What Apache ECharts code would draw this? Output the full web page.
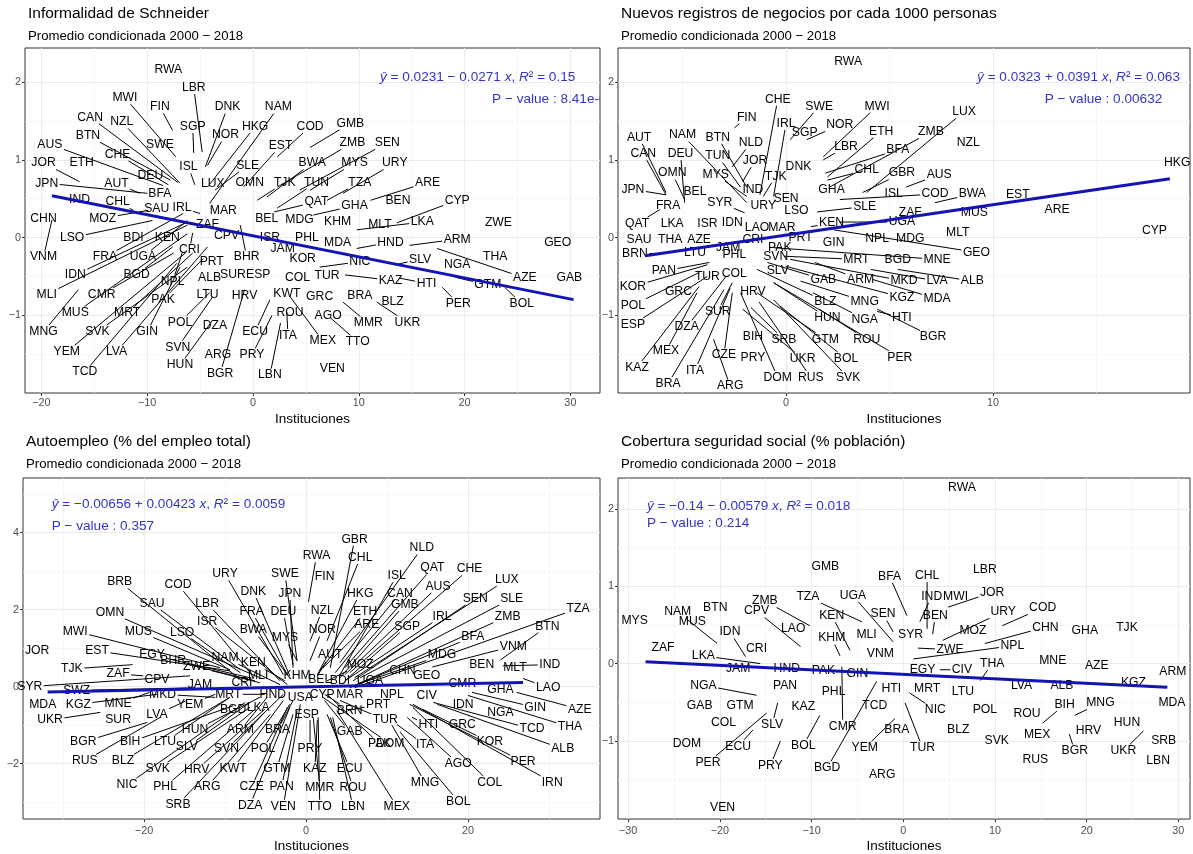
<!DOCTYPE html>
<html>
<head>
<meta charset="utf-8">
<script src="https://cdn.jsdelivr.net/npm/echarts@6/dist/echarts.min.js"></script>
<style>
  html, body { margin: 0; padding: 0; background: #ffffff; }
  #chart { width: 1193px; height: 854px; }
</style>
</head>
<body>
<div id="chart"></div>
<script>
// ---------------------------------------------------------------------------
// Data: each country is [code, Instituciones, conditional average]
// ---------------------------------------------------------------------------

// Informalidad de Schneider
const informalidadPoints = [
  ['RWA',-8.0,2.16],['LBR',-4.8,1.10],['MWI',-7.3,1.04],['FIN',-7.6,1.38],['CAN',-7.1,0.71],
  ['NZL',-6.9,0.70],['SGP',-5.6,1.09],['BTN',-7.8,0.74],['AUS',-8.5,0.67],['SWE',-8.8,1.20],
  ['ISL',-5.5,0.68],['CHE',-8.0,0.68],['JOR',-16.4,0.72],['ETH',-16.2,0.96],['DEU',-9.7,0.80],
  ['JPN',-10.0,0.57],['AUT',-10.7,0.57],['BFA',-8.8,0.57],['IND',-16.4,0.49],['CHL',-11.3,0.35],
  ['SAU',-9.1,0.37],['IRL',-5.0,0.31],['CHN',-19.0,0.27],['VNM',-19.0,0.23],['MOZ',-9.9,0.35],
  ['LSO',-9.5,0.22],['BDI',-11.3,0.00],['KEN',-8.1,0.00],['FRA',-6.6,0.31],['UGA',-6.2,0.22],
  ['CRI',-5.7,0.06],['IDN',-6.2,0.20],['BGD',-7.6,-0.12],['MLI',-6.2,0.16],['CMR',-7.5,-0.20],
  ['NPL',-6.7,-0.20],['PAK',-4.7,-0.27],['MNG',-16.5,-0.67],['MUS',-6.2,0.05],['MRT',-5.7,-0.20],
  ['SVK',-6.2,-0.38],['GIN',-6.9,-0.38],['POL',-4.1,-0.71],['YEM',-6.4,-0.20],['LVA',-4.3,-0.12],
  ['SVN',-3.8,-0.76],['TCD',-7.2,-0.33],['HUN',-3.8,-1.06],['DNK',-4.5,0.91],['NAM',-4.1,0.44],
  ['HKG',-4.3,0.65],['NOR',-4.3,0.93],['COD',2.3,1.04],['GMB',5.4,1.16],['EST',-0.9,0.65],
  ['ZMB',2.3,0.65],['SEN',4.4,0.61],['SLE',-3.6,0.61],['BWA',1.3,0.52],['MYS',5.4,0.61],
  ['URY',8.5,0.57],['LUX',-3.8,0.70],['OMN',-0.3,0.71],['TJK',0.4,0.48],['TUN',2.3,0.38],
  ['TZA',7.0,0.48],['MAR',-2.8,0.35],['QAT',2.0,0.33],['GHA',5.7,0.29],['BEN',13.7,0.48],
  ['ZAF',-4.3,0.17],['BHR',-1.2,0.16],['CPV',-2.5,0.03],['BEL',1.3,0.25],['MDG',4.4,0.23],
  ['LKA',9.8,0.10],['KHM',8.0,0.20],['MLT',12.0,0.17],['ISR',1.6,0.00],['PHL',5.1,0.00],
  ['MDA',8.0,-0.06],['ARM',14.8,-0.10],['HND',9.8,-0.14],['JAM',2.8,-0.14],['KOR',4.7,-0.27],
  ['NIC',6.3,-0.38],['SLV',13.4,-0.35],['PRT',-3.9,-0.31],['ESP',0.5,-0.48],['COL',4.2,-0.52],
  ['KAZ',8.7,-0.48],['TUR',7.0,-0.49],['ALB',-4.1,-0.51],['SUR',-1.9,-0.48],['HTI',13.8,-0.52],
  ['LTU',-4.3,-0.74],['HRV',-0.8,-0.75],['KWT',3.2,-0.72],['GRC',6.3,-0.76],['BRA',10.1,-0.75],
  ['MMR',8.5,-0.83],['BLZ',13.2,-0.83],['UKR',11.7,-0.83],['ROU',3.5,-0.97],['AGO',7.1,-1.00],
  ['TTO',7.3,-1.03],['MEX',3.5,-0.76],['DZA',-3.6,-1.13],['ECU',1.6,-0.80],['ITA',3.2,-0.96],
  ['BGR',-0.8,-0.67],['ARG',-3.3,-1.51],['PRY',1.8,-1.00],['LBN',2.6,-1.10],['VEN',7.5,-1.68],
  ['ARE',11.1,0.48],['CYP',13.6,0.19],['ZWE',23.2,0.19],['GEO',28.8,-0.07],['THA',22.9,-0.25],
  ['GTM',19.1,-0.51],['NGA',19.3,-0.35],['AZE',17.4,-0.14],['GAB',30.3,-0.52],['PER',17.9,-0.64],
  ['BOL',23.8,-0.64]
];
const informalidadFit = { intercept: 0.0231, slope: -0.0271, r2: '0.15', p: '8.41e-06' };

// Nuevos registros de negocios por cada 1000 personas
const negociosPoints = [
  ['CHE',-1.26,0.55],['FIN',-2.5,1.41],['IRL',-0.6,0.53],['AUT',-5.8,0.58],['NAM',-1.9,0.45],
  ['BTN',-1.9,0.65],['NLD',-2.6,0.91],['CAN',-5.8,0.55],['DEU',-4.9,0.45],['TUN',-2.2,0.65],
  ['JOR',-2.1,0.72],['OMN',-4.9,0.49],['MYS',-1.9,0.53],['TJK',-1.1,0.53],['DNK',0.6,0.91],
  ['JPN',-5.8,0.55],['BEL',-4.4,0.59],['IND',-1.6,0.62],['SEN',0.0,0.50],['FRA',-5.7,0.41],
  ['SYR',-2.0,0.32],['URY',-1.1,0.41],['LSO',0.5,0.35],['QAT',-6.1,0.36],['LKA',-5.5,0.18],
  ['ISR',-3.8,0.18],['IDN',-2.6,0.19],['LAO',-1.4,0.13],['MAR',-0.2,0.13],['SAU',-6.8,-0.02],
  ['THA',-5.6,-0.02],['AZE',-4.2,-0.02],['CRI',-1.6,-0.03],['PRT',0.7,0.00],['JAM',-2.8,-0.13],
  ['PAK',-0.3,-0.13],['BRN',-5.8,-0.20],['LTU',-4.4,-0.19],['PHL',-2.5,-0.22],['SVN',-0.5,-0.24],
  ['PAN',-3.7,-0.32],['TUR',-3.8,-0.50],['COL',-2.5,-0.47],['SLV',-0.4,-0.43],['KOR',-3.8,-0.35],
  ['GRC',-5.2,-0.69],['HRV',-1.6,-0.69],['POL',-4.2,-0.45],['SUR',-2.6,-0.58],['ESP',-3.8,-0.50],
  ['DZA',-2.9,-0.50],['BIH',-1.6,-1.27],['SRB',-1.7,-0.90],['MEX',-4.3,-0.71],['CZE',-2.6,-0.71],
  ['PRY',-1.6,-1.55],['KAZ',-4.2,-0.63],['ITA',-2.7,-0.65],['BRA',-3.0,-0.67],['ARG',-3.5,-1.31],
  ['DOM',-2.2,-0.71],['RWA',3.0,2.26],['SWE',0.2,1.26],['MWI',1.8,1.04],['LUX',3.9,0.58],
  ['NOR',1.0,1.26],['ETH',2.0,0.78],['ZMB',2.1,0.65],['SGP',0.9,1.35],['LBR',1.8,1.00],
  ['BFA',1.9,0.83],['NZL',8.8,1.22],['CHL',2.0,0.74],['GBR',3.7,0.58],['AUS',5.8,0.65],
  ['GHA',2.2,0.62],['ISL',5.2,0.56],['COD',2.6,0.49],['BWA',7.2,0.45],['SLE',1.5,0.33],
  ['ZAF',6.0,0.32],['MUS',9.1,0.32],['UGA',2.6,0.20],['KEN',1.2,0.14],['MLT',8.3,0.06],
  ['GIN',2.3,-0.06],['NPL',4.4,-0.01],['MDG',6.0,-0.01],['GEO',2.3,0.10],['MRT',-0.1,-0.24],
  ['BGD',5.4,-0.28],['MNE',-0.6,-0.13],['GAB',-0.9,-0.32],['ARM',1.4,-0.32],['MKD',0.2,-0.28],
  ['LVA',4.1,-0.41],['ALB',5.4,-0.41],['BLZ',-1.4,-0.41],['MNG',0.7,-0.56],['KGZ',0.0,-0.37],
  ['MDA',4.2,-0.54],['HUN',-0.6,-0.58],['NGA',1.3,-0.71],['HTI',4.4,-0.95],['BGR',4.4,-0.92],
  ['GTM',-1.4,-0.71],['ROU',1.6,-0.92],['PER',-0.6,-0.58],['UKR',-2.1,-0.92],['BOL',-0.3,-0.88],
  ['RUS',-1.3,-0.83],['SVK',-0.6,-0.80],['HKG',18.55,0.96],['EST',11.2,0.55],['ARE',13.1,0.36],
  ['CYP',17.8,0.09]
];
const negociosFit = { intercept: 0.0323, slope: 0.0391, r2: '0.063', p: '0.00632' };

// Autoempleo (% del empleo total)
const autoempleoPoints = [
  ['BRB',-7.5,0.08],['COD',-6.9,0.36],['SAU',-8.1,0.44],['OMN',-5.7,0.23],['MWI',-10.6,0.49],
  ['MUS',-9.4,0.44],['LSO',-8.1,0.36],['JOR',-31.9,0.93],['EST',-9.4,0.41],['EGY',-6.9,0.23],
  ['BHR',-6.3,0.15],['ZWE',-5.7,0.10],['TJK',-21.4,0.57],['ZAF',-20.1,0.28],['CPV',-18.4,0.18],
  ['SYR',-14.3,0.28],['SWZ',-13.7,-0.03],['JAM',-13.1,0.05],['MDA',-31.5,-0.46],['KGZ',-18.4,-0.20],
  ['MNE',-19.3,-0.15],['MKD',-11.2,-0.28],['YEM',-11.2,-0.20],['UKR',-25.4,-0.67],['SUR',-23.2,-0.87],
  ['LVA',-14.7,-0.36],['BGR',-19.6,-0.93],['BIH',-9.0,-0.50],['LTU',-9.4,-0.28],['RUS',-18.0,-0.80],
  ['BLZ',-9.4,-0.28],['SLV',-6.9,-0.41],['HUN',-5.7,-0.28],['SVK',-6.9,-0.54],['HRV',-5.1,-0.59],
  ['NIC',-7.5,-0.41],['PHL',-6.3,-0.59],['SRB',-5.1,-0.67],['ARG',-4.4,-0.72],['GBR',3.0,0.49],
  ['RWA',0.3,2.20],['CHL',2.6,1.19],['URY',-2.8,0.31],['SWE',-1.1,0.67],['FIN',2.3,2.85],
  ['DNK',-2.0,0.28],['JPN',-1.6,0.49],['HKG',1.4,0.31],['LBR',-3.2,0.15],['FRA',-2.3,0.31],
  ['DEU',-1.6,0.57],['NZL',0.5,1.18],['ETH',1.7,0.41],['ISR',-2.3,0.05],['BWA',-2.3,0.31],
  ['MYS',-1.1,0.67],['NOR',0.5,0.67],['ARE',2.1,0.49],['NAM',-3.2,0.05],['KEN',-2.6,0.15],
  ['AUT',1.5,0.31],['MOZ',2.6,0.15],['MLI',-5.9,0.28],['KHM',-1.1,0.28],['BEL',1.7,0.18],
  ['BDI',4.2,0.15],['UGA',7.9,0.15],['CRI',-7.9,0.10],['MRT',-5.1,-0.20],['HND',-4.1,-0.20],
  ['USA',-0.7,-0.28],['CYP',2.0,-0.20],['MAR',5.4,-0.20],['NPL',10.6,-0.20],['PRT',5.2,-0.62],
  ['BGD',-9.0,-0.59],['LKA',-5.9,-0.54],['ESP',0.1,-0.72],['BRN',2.3,-0.20],['TUR',4.2,-0.36],
  ['ARM',-4.8,-0.28],['BRA',-1.6,-0.36],['GAB',2.3,-0.36],['PAK',2.6,-0.20],['SVN',-2.8,-0.20],
  ['POL',-2.0,-0.46],['PRY',0.5,-0.87],['DOM',2.1,-0.28],['KWT',-2.8,-0.36],['GTM',-1.6,-0.72],
  ['KAZ',1.4,-0.87],['ECU',2.6,-0.72],['CZE',-2.3,-0.54],['PAN',-1.1,-0.62],['MMR',0.9,-0.80],
  ['ROU',3.0,-0.80],['DZA',-2.0,-0.54],['VEN',-0.7,-0.46],['TTO',1.5,-0.80],['LBN',3.3,-0.80],
  ['MEX',3.8,-0.62],['NLD',4.2,0.62],['QAT',4.8,0.49],['CHE',5.4,0.36],['CAN',3.6,0.36],
  ['AUS',4.8,0.31],['ISL',4.2,0.31],['LUX',6.0,0.23],['GMB',4.2,0.23],['SEN',5.8,0.15],
  ['SLE',6.7,0.23],['IRL',4.8,0.15],['ZMB',5.4,-0.03],['SGP',4.8,0.15],['TZA',6.0,-0.03],
  ['BTN',24.0,0.69],['BFA',6.0,0.03],['MDG',6.0,0.03],['VNM',15.6,0.51],['BEN',21.7,0.57],
  ['IND',24.3,0.54],['MLT',25.8,0.49],['CHN',11.9,0.41],['GEO',14.9,0.28],['CMR',19.3,0.08],
  ['LAO',26.8,0.21],['GHA',24.0,-0.08],['CIV',14.9,-0.23],['GIN',20.5,-0.15],['AZE',26.0,-0.15],
  ['IDN',19.4,-0.46],['NGA',24.0,-0.67],['THA',20.0,-0.23],['TCD',15.7,-0.41],['HTI',13.1,-0.80],
  ['GRC',19.3,-0.98],['KOR',14.4,-0.59],['ALB',16.2,-0.46],['ITA',11.2,-0.98],['PER',12.8,-0.46],
  ['AGO',12.5,-0.80],['IRN',13.2,-0.46],['MNG',10.6,-1.00],['COL',13.2,-0.54],['BOL',11.6,-1.18]
];
const autoempleoFit = { intercept: -0.00656, slope: 0.00423, r2: '0.0059', p: '0.357' };

// Cobertura seguridad social (% población)
const coberturaPoints = [
  ['MYS',-28.1,0.55],['NAM',-20.3,0.26],['BTN',-20.5,0.72],['MUS',-23.0,0.54],['ZMB',-10.2,0.49],
  ['CPV',-11.2,0.22],['IDN',-17.2,0.09],['LAO',-11.2,0.37],['ZAF',-26.2,0.21],['CRI',-16.0,0.19],
  ['LKA',-15.6,0.00],['JAM',-18.0,-0.06],['HND',-12.7,-0.06],['NGA',-16.0,-0.41],['PAN',-12.9,-0.29],
  ['GAB',-22.2,-0.54],['GTM',-17.8,-0.54],['KAZ',-10.9,-0.56],['COL',-19.6,-0.77],['SLV',-13.7,-0.51],
  ['DOM',-23.6,-1.03],['ECU',-16.4,-0.86],['PER',-14.9,-0.64],['PRY',-13.4,-1.00],['VEN',-19.7,-1.86],
  ['RWA',6.4,2.28],['GMB',-8.5,1.26],['LBR',8.9,1.22],['BFA',0.4,0.62],['CHL',2.6,0.45],
  ['TZA',-4.5,0.54],['UGA',-1.1,0.28],['IND',1.8,0.54],['JOR',4.9,0.73],['MWI',5.7,0.86],
  ['KEN',-5.8,0.17],['SEN',-1.1,0.41],['BEN',3.2,0.38],['KHM',-6.9,0.10],['MLI',-4.0,0.38],
  ['SYR',0.8,0.37],['URY',4.3,0.30],['MOZ',7.6,0.42],['VNM',-2.5,0.13],['NPL',1.1,0.06],
  ['ZWE',1.6,0.20],['THA',8.4,-0.22],['CMR',-6.7,-0.04],['PAK',-8.7,-0.09],['GIN',-5.0,-0.13],
  ['EGY',2.1,-0.08],['CIV',4.0,-0.08],['PHL',-7.6,-0.36],['HTI',-1.3,-0.32],['NIC',0.7,-0.38],
  ['MRT',2.6,-0.32],['LTU',6.5,-0.36],['TCD',-3.1,-0.55],['YEM',-0.9,-0.71],['BRA',-0.7,-0.86],
  ['TUR',0.2,-0.51],['BLZ',6.0,-0.86],['BGD',-2.9,-0.23],['ARG',-2.3,-1.44],['BOL',-9.1,-0.67],
  ['POL',8.9,-0.59],['SVK',10.2,-1.00],['COD',10.8,0.49],['CHN',8.9,0.26],['GHA',19.8,0.42],
  ['TJK',24.4,0.46],['MNE',16.3,0.04],['AZE',21.1,-0.03],['ARM',28.8,-0.10],['KGZ',25.1,-0.24],
  ['LVA',12.9,-0.28],['ALB',17.3,-0.28],['MDA',28.6,-0.50],['BIH',15.2,-0.77],['MNG',18.7,-0.67],
  ['ROU',13.5,-0.65],['HUN',24.4,-0.76],['MEX',14.6,-0.92],['HRV',20.2,-0.87],['BGR',18.1,-0.91],
  ['SRB',28.4,-1.00],['UKR',26.2,-0.87],['RUS',14.4,-1.24],['LBN',27.8,-1.26]
];
const coberturaFit = { intercept: -0.14, slope: -0.00579, r2: '0.018', p: '0.214' };

// Tick labels of each panel
const informalidadXTicks = [-20, -10, 0, 10, 20, 30];
const informalidadYTicks = [-1, 0, 1, 2];
const negociosXTicks = [0, 10];
const negociosYTicks = [-1, 0, 1, 2];
const autoempleoXTicks = [-20, 0, 20];
const autoempleoYTicks = [-2, 0, 2, 4];
const coberturaXTicks = [-30, -20, -10, 0, 10, 20, 30];
const coberturaYTicks = [-1, 0, 1, 2];

// ---------------------------------------------------------------------------
// Repelled label placement (layout only, in axis units): code -> [x, y]
// Labels not listed sit on their own point.
// ---------------------------------------------------------------------------
const informalidadLabelAt = {
  LBR:[-5.6,1.93], MWI:[-12.1,1.80], FIN:[-8.8,1.68], CAN:[-15.4,1.55], NZL:[-12.4,1.49],
  SGP:[-5.7,1.43], BTN:[-15.6,1.31], AUS:[-19.2,1.20], ISL:[-6.1,0.91], CHE:[-12.8,1.07],
  JOR:[-19.8,0.96], JPN:[-19.5,0.70], AUT:[-12.9,0.70], CHL:[-12.8,0.46], IRL:[-6.7,0.38],
  CHN:[-19.8,0.25], VNM:[-19.8,-0.25], MOZ:[-14.2,0.25], LSO:[-17.1,0.0], FRA:[-14.0,-0.25],
  UGA:[-10.4,-0.25], CRI:[-6.0,-0.16], IDN:[-16.8,-0.48], BGD:[-11.0,-0.48], MLI:[-19.5,-0.73],
  CMR:[-14.3,-0.73], NPL:[-7.6,-0.57], PAK:[-8.5,-0.80], MNG:[-19.8,-1.21], MUS:[-16.8,-0.97],
  MRT:[-11.9,-0.97], SVK:[-14.7,-1.21], GIN:[-10.0,-1.21], POL:[-6.9,-1.09], YEM:[-17.6,-1.47],
  LVA:[-12.9,-1.47], SVN:[-7.1,-1.41], TCD:[-15.9,-1.73], HUN:[-6.9,-1.64], DNK:[-2.4,1.68],
  NAM:[2.4,1.68], HKG:[0.2,1.43], NOR:[-2.6,1.32], COD:[5.4,1.43], GMB:[9.2,1.47],
  EST:[2.6,1.18], ZMB:[9.4,1.22], SEN:[12.7,1.22], SLE:[-0.5,0.93], BWA:[5.6,0.96],
  MYS:[9.6,0.96], URY:[13.4,0.96], TJK:[3.0,0.71], TUN:[6.0,0.71], TZA:[10.1,0.71],
  QAT:[6.0,0.46], GHA:[9.6,0.41], BHR:[-0.6,-0.25], LKA:[16.0,0.20], ARM:[19.3,-0.02],
  HND:[13.0,-0.06], NIC:[10.1,-0.31], SLV:[15.8,-0.28], KAZ:[13.0,-0.55], HTI:[16.4,-0.59],
  MMR:[10.9,-1.10], UKR:[14.6,-1.09], TTO:[9.9,-1.34], MEX:[6.6,-1.33], ECU:[0.2,-1.21],
  ITA:[3.3,-1.26], BGR:[-3.1,-1.75], PRY:[-0.1,-1.51], LBN:[1.6,-1.77], ARE:[16.5,0.71],
  CYP:[19.3,0.48], GTM:[22.2,-0.61], AZE:[25.7,-0.52], GAB:[29.9,-0.52], PER:[19.4,-0.85],
  BOL:[25.4,-0.85]
};
const negociosLabelAt = {
  CHE:[-0.4,1.78], FIN:[-1.9,1.55], IRL:[0.0,1.47], AUT:[-7.1,1.29], NAM:[-5.0,1.32],
  BTN:[-3.3,1.29], NLD:[-1.7,1.22], CAN:[-6.9,1.08], DEU:[-5.1,1.08], TUN:[-3.3,1.05],
  JOR:[-1.5,0.99], OMN:[-5.5,0.83], MYS:[-3.4,0.81], TJK:[-0.5,0.79], JPN:[-7.4,0.62],
  SYR:[-3.2,0.45], QAT:[-7.2,0.18], SAU:[-7.1,-0.02], BRN:[-7.3,-0.21], PAN:[-5.9,-0.43],
  KOR:[-7.4,-0.63], POL:[-7.4,-0.87], SUR:[-3.3,-0.95], ESP:[-7.4,-1.12], DZA:[-4.8,-1.15],
  SRB:[-0.1,-1.31], MEX:[-5.8,-1.46], CZE:[-3.0,-1.51], KAZ:[-7.2,-1.67], ITA:[-4.4,-1.71],
  BRA:[-5.7,-1.88], ARG:[-2.7,-1.91], DOM:[-0.4,-1.80], SWE:[1.6,1.69], MWI:[4.4,1.69],
  LUX:[8.6,1.62], NOR:[2.6,1.45], ETH:[4.6,1.37], ZMB:[7.0,1.36], LBR:[2.9,1.17],
  BFA:[5.4,1.13], CHL:[3.9,0.87], GBR:[5.6,0.83], AUS:[7.4,0.81], COD:[7.2,0.56],
  BWA:[9.0,0.56], SLE:[3.8,0.40], UGA:[5.6,0.20], KEN:[2.2,0.19], GEO:[9.2,-0.19],
  MRT:[3.4,-0.28], MNE:[7.3,-0.28], GAB:[1.8,-0.54], ARM:[3.6,-0.54], MKD:[5.7,-0.56],
  LVA:[7.3,-0.56], ALB:[9.0,-0.56], BLZ:[1.9,-0.82], MNG:[3.8,-0.82], KGZ:[5.6,-0.77],
  MDA:[7.3,-0.79], HUN:[2.0,-1.03], NGA:[3.8,-1.05], HTI:[5.6,-1.03], BGR:[7.1,-1.28],
  GTM:[1.9,-1.31], ROU:[3.9,-1.31], PER:[5.5,-1.54], UKR:[0.8,-1.56], BOL:[2.9,-1.56],
  RUS:[1.2,-1.80], SVK:[3.0,-1.80], HKG:[18.9,0.96]
};
const autoempleoLabelAt = {
  BRB:[-23.0,2.72], COD:[-15.8,2.65], SAU:[-19.0,2.16], OMN:[-24.2,1.93], MWI:[-28.5,1.44],
  MUS:[-20.7,1.44], LSO:[-15.3,1.41], JOR:[-33.2,0.93], EST:[-25.8,0.93], EGY:[-19.0,0.82],
  BHR:[-16.4,0.67], ZWE:[-13.5,0.51], TJK:[-28.9,0.46], ZAF:[-23.2,0.33], SYR:[-34.1,0.0],
  SWZ:[-28.3,-0.10], MDA:[-32.5,-0.46], KGZ:[-28.1,-0.46], MNE:[-23.2,-0.44], MKD:[-17.7,-0.20],
  YEM:[-14.3,-0.46], UKR:[-31.6,-0.87], LVA:[-18.4,-0.72], BGR:[-27.5,-1.44], BIH:[-21.7,-1.44],
  LTU:[-17.4,-1.44], RUS:[-27.3,-1.93], BLZ:[-22.6,-1.93], SLV:[-14.7,-1.57], HUN:[-13.7,-1.13],
  SVK:[-18.3,-2.13], HRV:[-13.5,-2.16], NIC:[-22.1,-2.55], PHL:[-17.4,-2.60], SRB:[-15.8,-3.06],
  ARG:[-12.2,-2.60], GBR:[6.0,3.83], RWA:[1.3,3.40], CHL:[6.7,3.36], URY:[-10.0,2.93],
  SWE:[-2.6,2.93], DNK:[-6.5,2.47], JPN:[-2.0,2.42], HKG:[6.7,2.42], LBR:[-12.2,2.16],
  FRA:[-6.7,1.95], DEU:[-2.8,1.95], NZL:[2.0,1.98], ETH:[7.3,1.95], ISR:[-12.2,1.70],
  BWA:[-6.5,1.47], MYS:[-2.6,1.26], NOR:[2.0,1.47], ARE:[7.5,1.60], NAM:[-10.0,0.75],
  KEN:[-6.5,0.62], AUT:[3.0,0.82], MOZ:[6.7,0.57], MRT:[-9.6,-0.20], PRT:[8.9,-0.46],
  BRN:[5.4,-0.62], TUR:[9.8,-0.87], ARM:[-8.1,-1.13], BRA:[-3.5,-1.13], GAB:[5.4,-1.18],
  PAK:[9.1,-1.49], SVN:[-9.8,-1.62], POL:[-5.3,-1.62], PRY:[0.5,-1.62], DOM:[10.4,-1.49],
  KWT:[-9.0,-2.13], GTM:[-3.6,-2.13], KAZ:[1.1,-2.13], ECU:[5.4,-2.13], CZE:[-6.7,-2.60],
  PAN:[-3.0,-2.60], MMR:[1.7,-2.62], ROU:[5.8,-2.62], DZA:[-6.9,-3.08], VEN:[-2.8,-3.11],
  TTO:[1.7,-3.11], LBN:[5.8,-3.11], MEX:[11.2,-3.11], NLD:[14.3,3.60], QAT:[15.6,3.08],
  CHE:[20.2,3.06], CAN:[11.6,2.42], AUS:[16.3,2.60], ISL:[11.2,2.88], LUX:[24.8,2.78],
  GMB:[12.2,2.13], SEN:[20.9,2.29], SLE:[25.4,2.29], IRL:[16.8,1.83], ZMB:[24.9,1.83],
  SGP:[12.5,1.57], TZA:[33.6,2.03], BTN:[29.8,1.57], BFA:[20.6,1.29], MDG:[16.8,0.82],
  VNM:[25.6,1.05], IND:[30.1,0.57], LAO:[29.9,-0.03], GIN:[28.3,-0.54], AZE:[33.8,-0.59],
  THA:[32.6,-1.05], TCD:[27.9,-1.10], HTI:[15.1,-1.00], KOR:[22.7,-1.44], ALB:[31.7,-1.62],
  ITA:[14.7,-1.52], PER:[26.8,-1.95], AGO:[18.8,-2.00], IRN:[30.4,-2.49], MNG:[14.7,-2.49],
  COL:[22.7,-2.49], BOL:[18.8,-2.98]
};
const coberturaLabelAt = {
  MYS:[-29.3,0.55], NAM:[-24.6,0.67], ZMB:[-15.1,0.81], CPV:[-16.0,0.68], IDN:[-18.9,0.41],
  LAO:[-12.0,0.45], LKA:[-21.8,0.10], NGA:[-21.8,-0.28], SLV:[-14.3,-0.79], ECU:[-18.0,-1.07],
  PER:[-21.3,-1.28], PRY:[-14.5,-1.32], BFA:[-1.5,1.13], CHL:[2.6,1.14], TZA:[-10.4,0.86],
  UGA:[-5.5,0.88], IND:[3.1,0.87], JOR:[9.7,0.92], KEN:[-7.8,0.62], SEN:[-2.2,0.64],
  BEN:[3.5,0.62], KHM:[-7.8,0.33], URY:[10.9,0.67], NPL:[11.9,0.23], ZWE:[5.1,0.18],
  THA:[9.7,0.0], CMR:[-6.6,-0.81], CIV:[6.4,-0.08], NIC:[3.5,-0.60], YEM:[-4.2,-1.09],
  TUR:[2.1,-1.09], BGD:[-8.3,-1.35], BOL:[-10.9,-1.06], COD:[15.2,0.72], CHN:[15.5,0.47],
  ARM:[29.4,-0.10], MDA:[29.3,-0.50], BIH:[17.6,-0.53], MNG:[21.5,-0.51], BGR:[18.7,-1.13],
  UKR:[24.0,-1.13]
};

// ---------------------------------------------------------------------------
// Panel layout
// ---------------------------------------------------------------------------
const FONT = '"Liberation Sans", Arial, Helvetica, sans-serif';
const FIT_COLOR = '#1414b4';
const NOTE_COLOR = '#3434c8';

const panels = [
  { title: 'Informalidad de Schneider', points: informalidadPoints, labelAt: informalidadLabelAt,
    fit: informalidadFit, xTicks: informalidadXTicks, yTicks: informalidadYTicks,
    grid: { left: 25, top: 48, width: 575, height: 345 },
    x: { min: -21.55, max: 32.8, step: 10 }, y: { min: -2.0, max: 2.44, step: 1 },
    notes: [[12.0, 2.07], [22.6, 1.78]], titleY: 14, nameGap: 19, labelMargin: 5 },
  { title: 'Nuevos registros de negocios por cada 1000 personas', points: negociosPoints, labelAt: negociosLabelAt,
    fit: negociosFit, xTicks: negociosXTicks, yTicks: negociosYTicks,
    grid: { left: 618, top: 48, width: 572, height: 345 },
    x: { min: -8.12, max: 19.52, step: 10 }, y: { min: -2.0, max: 2.44, step: 1 },
    notes: [[9.23, 2.06], [12.5, 1.78]], titleY: 14, nameGap: 19, labelMargin: 5 },
  { title: 'Autoempleo (% del empleo total)', points: autoempleoPoints, labelAt: autoempleoLabelAt,
    fit: autoempleoFit, xTicks: autoempleoXTicks, yTicks: autoempleoYTicks,
    grid: { left: 23, top: 478, width: 577, height: 345 },
    x: { min: -34.94, max: 36.3, step: 20 }, y: { min: -3.44, max: 5.42, step: 2 },
    notes: [[-31.4, 4.73], [-31.4, 4.16]], titleY: 442, nameGap: 20, labelMargin: 7 },
  { title: 'Cobertura seguridad social (% población)', points: coberturaPoints, labelAt: coberturaLabelAt,
    fit: coberturaFit, xTicks: coberturaXTicks, yTicks: coberturaYTicks,
    grid: { left: 618, top: 478, width: 572, height: 344 },
    x: { min: -31.11, max: 31.27, step: 10 }, y: { min: -2.01, max: 2.40, step: 1 },
    notes: [[-27.95, 2.04], [-27.95, 1.81]], titleY: 442, nameGap: 20, labelMargin: 7 }
];

// ---------------------------------------------------------------------------
// Helpers
// ---------------------------------------------------------------------------
const measureCtx = document.createElement('canvas').getContext('2d');
const LABEL_FONT = '12.2px ' + FONT;
function textWidth(s) { measureCtx.font = LABEL_FONT; return measureCtx.measureText(s).width; }
const minus = v => String(v).replace('-', '\u2212');

function fitLines(fit) {
  const sign = fit.slope < 0 ? '\u2212' : '+';
  return [
    '{i|\u0177} = ' + minus(fit.intercept) + ' ' + sign + ' ' + Math.abs(fit.slope) + ' {i|x}, {i|R}\u00b2 = ' + fit.r2,
    'P \u2212 value : ' + fit.p
  ];
}

function axisCommon(ticks, margin) {
  return {
    type: 'value',
    axisLine: { show: false, onZero: false },
    axisTick: { show: true, length: 3, lineStyle: { color: '#333333', width: 1 }, customValues: ticks },
    axisLabel: { color: '#4d4d4d', fontSize: 10.8, fontFamily: FONT, customValues: ticks, formatter: minus, margin: margin },
    splitLine: { show: true, lineStyle: { color: '#ebebeb', width: 1 } },
    minorTick: { show: false, splitNumber: 2 },
    minorSplitLine: { show: true, lineStyle: { color: '#f3f3f3', width: 0.7 } }
  };
}

// ---------------------------------------------------------------------------
// Build option
// ---------------------------------------------------------------------------
const grids = [], xAxes = [], yAxes = [], series = [], graphics = [];

panels.forEach((pn, i) => {
  grids.push(Object.assign({ show: true, borderColor: '#333333', borderWidth: 1, backgroundColor: '#ffffff',
    containLabel: false }, pn.grid));

  xAxes.push(Object.assign(axisCommon(pn.xTicks, pn.labelMargin), {
    gridIndex: i, min: pn.x.min, max: pn.x.max, minInterval: pn.x.step, maxInterval: pn.x.step,
    name: 'Instituciones', nameLocation: 'middle', nameGap: pn.nameGap,
    nameTextStyle: { color: '#000000', fontSize: 13.5, fontFamily: FONT }
  }));
  yAxes.push(Object.assign(axisCommon(pn.yTicks, 4), {
    gridIndex: i, min: pn.y.min, max: pn.y.max, minInterval: pn.y.step, maxInterval: pn.y.step
  }));

  // Country labels with their connecting segments
  const codes = pn.points.map(p => p[0]);
  const data = pn.points.map(p => {
    const l = pn.labelAt[p[0]] || [p[1], p[2]];
    return [p[1], p[2], l[0], l[1]];
  });
  series.push({
    type: 'custom', xAxisIndex: i, yAxisIndex: i, silent: true, z: 3,
    dimensions: ['x', 'y', 'lx', 'ly'],
    encode: { x: [0, 2], y: [1, 3] },
    data: data,
    renderItem: function (params, api) {
      const p = api.coord([api.value(0), api.value(1)]);
      const l = api.coord([api.value(2), api.value(3)]);
      const code = codes[params.dataIndex];
      const hw = textWidth(code) / 2 + 1.5, hh = 6.5;
      const dx = p[0] - l[0], dy = p[1] - l[1];
      const children = [];
      if (Math.abs(dx) > hw || Math.abs(dy) > hh) {
        const tx = dx !== 0 ? hw / Math.abs(dx) : Infinity;
        const ty = dy !== 0 ? hh / Math.abs(dy) : Infinity;
        const t = Math.min(tx, ty);
        const sx = l[0] + dx * t, sy = l[1] + dy * t;
        if (Math.hypot(p[0] - sx, p[1] - sy) > 2) {
          children.push({ type: 'line', shape: { x1: sx, y1: sy, x2: p[0], y2: p[1] },
            style: { stroke: '#000000', lineWidth: 1 } });
        }
      }
      children.push({ type: 'text', x: l[0], y: l[1],
        style: { text: code, fill: '#000000', font: LABEL_FONT, align: 'center', verticalAlign: 'middle' } });
      return { type: 'group', children: children };
    }
  });

  // Least-squares line over the range of Instituciones
  const xs = pn.points.map(p => p[1]);
  const x0 = Math.min.apply(null, xs), x1 = Math.max.apply(null, xs);
  series.push({
    type: 'line', xAxisIndex: i, yAxisIndex: i, silent: true, z: 5, symbol: 'none',
    lineStyle: { color: FIT_COLOR, width: 3 },
    data: [[x0, pn.fit.intercept + pn.fit.slope * x0], [x1, pn.fit.intercept + pn.fit.slope * x1]]
  });

  // Fit annotation (clipped to the panel)
  const lines = fitLines(pn.fit);
  series.push({
    type: 'custom', xAxisIndex: i, yAxisIndex: i, silent: true, z: 6, clip: true,
    data: pn.notes,
    renderItem: function (params, api) {
      const c = api.coord([api.value(0), api.value(1)]);
      return { type: 'text', x: c[0], y: c[1],
        style: { text: lines[params.dataIndex], fill: NOTE_COLOR, fontSize: 13.6, fontFamily: FONT,
          align: 'left', verticalAlign: 'middle',
          rich: { i: { fontStyle: 'italic', fontSize: 13.6, fontFamily: FONT, fill: NOTE_COLOR, color: NOTE_COLOR } } } };
    }
  });

  // Titles
  graphics.push({ type: 'text', x: pn.grid.left + 3, y: pn.titleY,
    style: { text: pn.title, font: '15.5px ' + FONT, fill: '#000000', verticalAlign: 'middle' } });
  graphics.push({ type: 'text', x: pn.grid.left + 3, y: pn.titleY + 22,
    style: { text: 'Promedio condicionada 2000 \u2212 2018', font: '13.2px ' + FONT, fill: '#000000', verticalAlign: 'middle' } });
});

const chart = echarts.init(document.getElementById('chart'), null, { renderer: 'canvas' });
chart.setOption({
  backgroundColor: '#ffffff',
  animation: false,
  textStyle: { fontFamily: FONT },
  grid: grids,
  xAxis: xAxes,
  yAxis: yAxes,
  series: series,
  graphic: graphics
});
</script>
</body>
</html>
